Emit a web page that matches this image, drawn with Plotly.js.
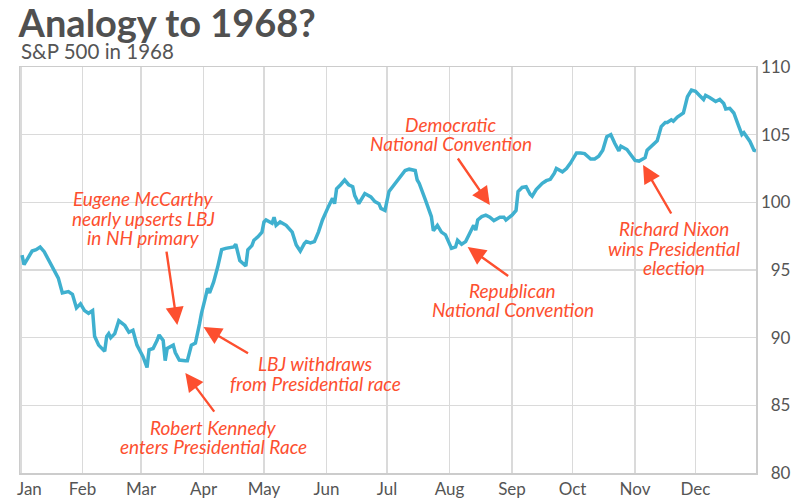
<!DOCTYPE html>
<html>
<head>
<meta charset="utf-8">
<script src="https://cdn.plot.ly/plotly-3.0.1.min.js"></script>
<style>html,body{margin:0;padding:0;background:#fff;}#chart{width:808px;height:500px;}</style>
</head>
<body>
<div id="chart"></div>
<script>
// S&P 500 close, 1968
const dates = [
'1968-01-02','1968-01-03','1968-01-05','1968-01-07','1968-01-09','1968-01-11','1968-01-13','1968-01-15','1968-01-17','1968-01-20','1968-01-22','1968-01-25','1968-01-27','1968-01-29','1968-01-31',
'1968-02-02','1968-02-04','1968-02-06','1968-02-07','1968-02-09','1968-02-12','1968-02-13','1968-02-14','1968-02-15','1968-02-17','1968-02-19','1968-02-22','1968-02-24','1968-02-26','1968-02-28',
'1968-03-02','1968-03-04','1968-03-05','1968-03-07','1968-03-09','1968-03-10','1968-03-12','1968-03-13','1968-03-14','1968-03-17','1968-03-18','1968-03-20','1968-03-23','1968-03-24','1968-03-26','1968-03-28','1968-03-30','1968-03-31',
'1968-04-02','1968-04-03','1968-04-04','1968-04-06','1968-04-08','1968-04-10','1968-04-12','1968-04-16','1968-04-17','1968-04-19','1968-04-22','1968-04-23','1968-04-25','1968-04-26','1968-04-28','1968-04-30',
'1968-05-01','1968-05-02','1968-05-05','1968-05-06','1968-05-07','1968-05-09','1968-05-12','1968-05-15','1968-05-17','1968-05-19','1968-05-21','1968-05-22','1968-05-24','1968-05-26','1968-05-28','1968-05-30',
'1968-06-02','1968-06-04','1968-06-05','1968-06-06','1968-06-08','1968-06-10','1968-06-12','1968-06-14','1968-06-15','1968-06-17','1968-06-20','1968-06-23','1968-06-25','1968-06-27','1968-06-28','1968-06-30',
'1968-07-02','1968-07-05','1968-07-07','1968-07-10','1968-07-12','1968-07-15','1968-07-16','1968-07-17','1968-07-20','1968-07-22','1968-07-23','1968-07-24','1968-07-26','1968-07-28','1968-07-30',
'1968-08-02','1968-08-04','1968-08-05','1968-08-07','1968-08-09','1968-08-12','1968-08-13','1968-08-14','1968-08-15','1968-08-17','1968-08-19','1968-08-21','1968-08-23','1968-08-26','1968-08-28','1968-08-29',
'1968-09-01','1968-09-03','1968-09-04','1968-09-06','1968-09-08','1968-09-10','1968-09-11','1968-09-13','1968-09-16','1968-09-18','1968-09-20','1968-09-22','1968-09-23','1968-09-26','1968-09-28','1968-09-30',
'1968-10-03','1968-10-05','1968-10-07','1968-10-10','1968-10-12','1968-10-14','1968-10-16','1968-10-18','1968-10-20','1968-10-22','1968-10-24','1968-10-25','1968-10-28','1968-10-30',
'1968-11-01','1968-11-03','1968-11-06','1968-11-07','1968-11-09','1968-11-12','1968-11-14','1968-11-16','1968-11-17','1968-11-19','1968-11-20','1968-11-22','1968-11-25','1968-11-27','1968-11-29',
'1968-12-01','1968-12-03','1968-12-05','1968-12-06','1968-12-08','1968-12-11','1968-12-13','1968-12-15','1968-12-16','1968-12-18','1968-12-20','1968-12-22','1968-12-24','1968-12-25','1968-12-28','1968-12-30','1968-12-31'
];
const spx = [
96.1,95.4,95.9,96.4,96.5,96.7,96.35,95.8,95.3,94.4,93.3,93.4,93.2,92.2,92.5,
92.0,91.8,92.0,90.1,89.45,89.0,90.1,90.3,90.0,90.3,91.25,90.9,90.4,90.55,89.45,
88.6,87.8,89.1,89.2,89.8,90.2,89.8,88.3,89.2,89.45,88.9,88.35,88.3,88.3,89.45,89.6,91.0,91.8,
93.0,93.65,93.3,94.1,95.2,96.5,96.6,96.7,96.9,95.7,95.3,96.5,96.8,97.2,97.45,97.8,
98.55,98.7,98.45,98.9,98.3,98.55,98.3,97.8,96.85,96.4,96.95,97.1,97.0,97.1,97.8,98.7,
99.7,100.3,99.9,101.0,101.3,101.65,101.3,101.15,100.5,99.9,100.65,100.4,100.05,99.9,99.55,99.4,
100.8,101.4,101.85,102.35,102.45,102.35,101.65,101.4,100.2,99.25,98.95,97.9,98.3,97.8,97.6,
96.6,96.7,97.2,96.9,97.1,98.1,98.3,97.95,98.7,98.95,99.05,98.9,98.65,98.9,98.9,98.7,
99.05,99.4,100.8,101.1,101.15,100.6,100.45,100.95,101.4,101.6,101.7,102.15,102.5,102.25,102.5,102.9,
103.65,103.65,103.6,103.2,103.2,103.4,103.85,104.85,105.0,104.35,103.8,104.15,103.9,103.5,
103.1,103.05,103.3,103.85,104.15,104.55,105.6,105.9,105.9,106.1,106.0,106.3,106.6,107.8,108.3,
108.2,107.9,107.6,107.9,107.75,107.45,107.6,107.3,106.9,106.95,106.6,105.8,105.0,105.15,104.5,103.85,103.8
];

const monthTicks = ['1968-01-01 12:00','1968-02-01','1968-03-01','1968-04-01','1968-05-01','1968-06-01','1968-07-01','1968-08-01','1968-09-01','1968-10-01','1968-11-01','1968-12-01'];
const monthLabels = ['\u00a0\u00a0\u00a0\u00a0Jan','Feb','Mar','Apr','May','Jun','Jul','Aug','Sep','Oct','Nov','Dec'];
const yTicks = [80,85,90,95,100,105,110];
const yLabels = ['\u200780','\u200785','\u200790','\u200795','100','105','110'];

// Event annotations: arrow tip (date, value) and label lines
const eventNames = ['mccarthy','lbj','rfk','dnc','rnc','nixon'];
const eventDates = ['1968-03-19','1968-04-01','1968-03-23','1968-08-21','1968-08-10','1968-11-05'];
const eventValues = [90.93,90.78,87.38,99.8,96.7,102.76];
const eventLines = [
  ['Eugene McCarthy','nearly upserts LBJ','in NH primary'],
  ['LBJ withdraws','from Presidential race'],
  ['Robert Kennedy','enters Presidential Race'],
  ['Democratic','National Convention'],
  ['Republican','National Convention'],
  ['Richard Nixon','wins Presidential','election']
];

const RED = '#fd4f2f';
const GREY = '#555555';
const FONT = 'Lato, "Open Sans", sans-serif';

// arrow tail offsets (px), text centre x and first-line y (paper coords)
const arrowOff = [[-11,-75],[46,27],[30,40],[-33,-48],[42,30],[29,50]];
const textPos = [[0.1676,0.6749],[0.4018,0.2685],[0.2633,0.1133],[0.585,0.8596],[0.6692,0.4507],[0.8891,0.601]];
const lineGap = 0.0475;

const annotations = [];
eventNames.forEach((n,i)=>{
  annotations.push({
    x: eventDates[i], y: eventValues[i], xref:'x', yref:'y',
    ax: arrowOff[i][0], ay: arrowOff[i][1], axref:'pixel', ayref:'pixel',
    showarrow:true, arrowhead:2, arrowsize:1.5, arrowwidth:2.4, arrowcolor:RED,
    text:'', standoff:0
  });
  eventLines[i].forEach((ln,k)=>{
    annotations.push({
      x: textPos[i][0], y: textPos[i][1] - k*lineGap, xref:'paper', yref:'paper',
      xanchor:'center', yanchor:'middle', showarrow:false, borderpad:0,
      text:'<i>'+ln+'</i>',
      font:{family:FONT, size:19, color:RED}
    });
  });
});
annotations.push({
  x:0, y:1.04, xref:'paper', yref:'paper', xanchor:'left', yanchor:'middle', borderpad:0,
  showarrow:false, text:'S&P 500 in 1968', font:{family:FONT, size:20.5, color:GREY}
});

const data = [{
  x: dates, y: spx, type:'scatter', mode:'lines',
  line:{color:'#3fb0cf', width:3.5}, hoverinfo:'skip'
}];

const layout = {
  width:808, height:500,
  margin:{l:20, r:52, t:67, b:27},
  paper_bgcolor:'#ffffff', plot_bgcolor:'#ffffff',
  showlegend:false,
  title:{text:'<b>Analogy to 1968?</b>', xref:'container', yref:'container', x:0.023, xanchor:'left', y:0.952, yanchor:'middle',
    font:{family:'Lato', size:38, color:'#505050', weight:900}},
  xaxis:{type:'date', range:['1968-01-01','1968-12-31'], tickmode:'array', tickvals:monthTicks, ticktext:monthLabels,
    ticklabeloverflow:'allow',
    showgrid:true, gridcolor:'#dadada', gridwidth:1.3, showline:true, mirror:true, linecolor:'#cccccc', linewidth:1.5,
    ticks:'', tickfont:{family:FONT, size:17, color:GREY}, zeroline:false, fixedrange:true},
  yaxis:{range:[80,110], side:'right', tickmode:'array', tickvals:yTicks, ticktext:yLabels,
    showgrid:true, gridcolor:'#dadada', gridwidth:1.3, showline:true, mirror:true, linecolor:'#cccccc', linewidth:1.5,
    ticks:'', tickfont:{family:FONT, size:17, color:GREY}, zeroline:false, ticklabelstandoff:0, fixedrange:true},
  annotations: annotations
};

Plotly.newPlot('chart', data, layout, {staticPlot:true, displayModeBar:false});
</script>
</body>
</html>
